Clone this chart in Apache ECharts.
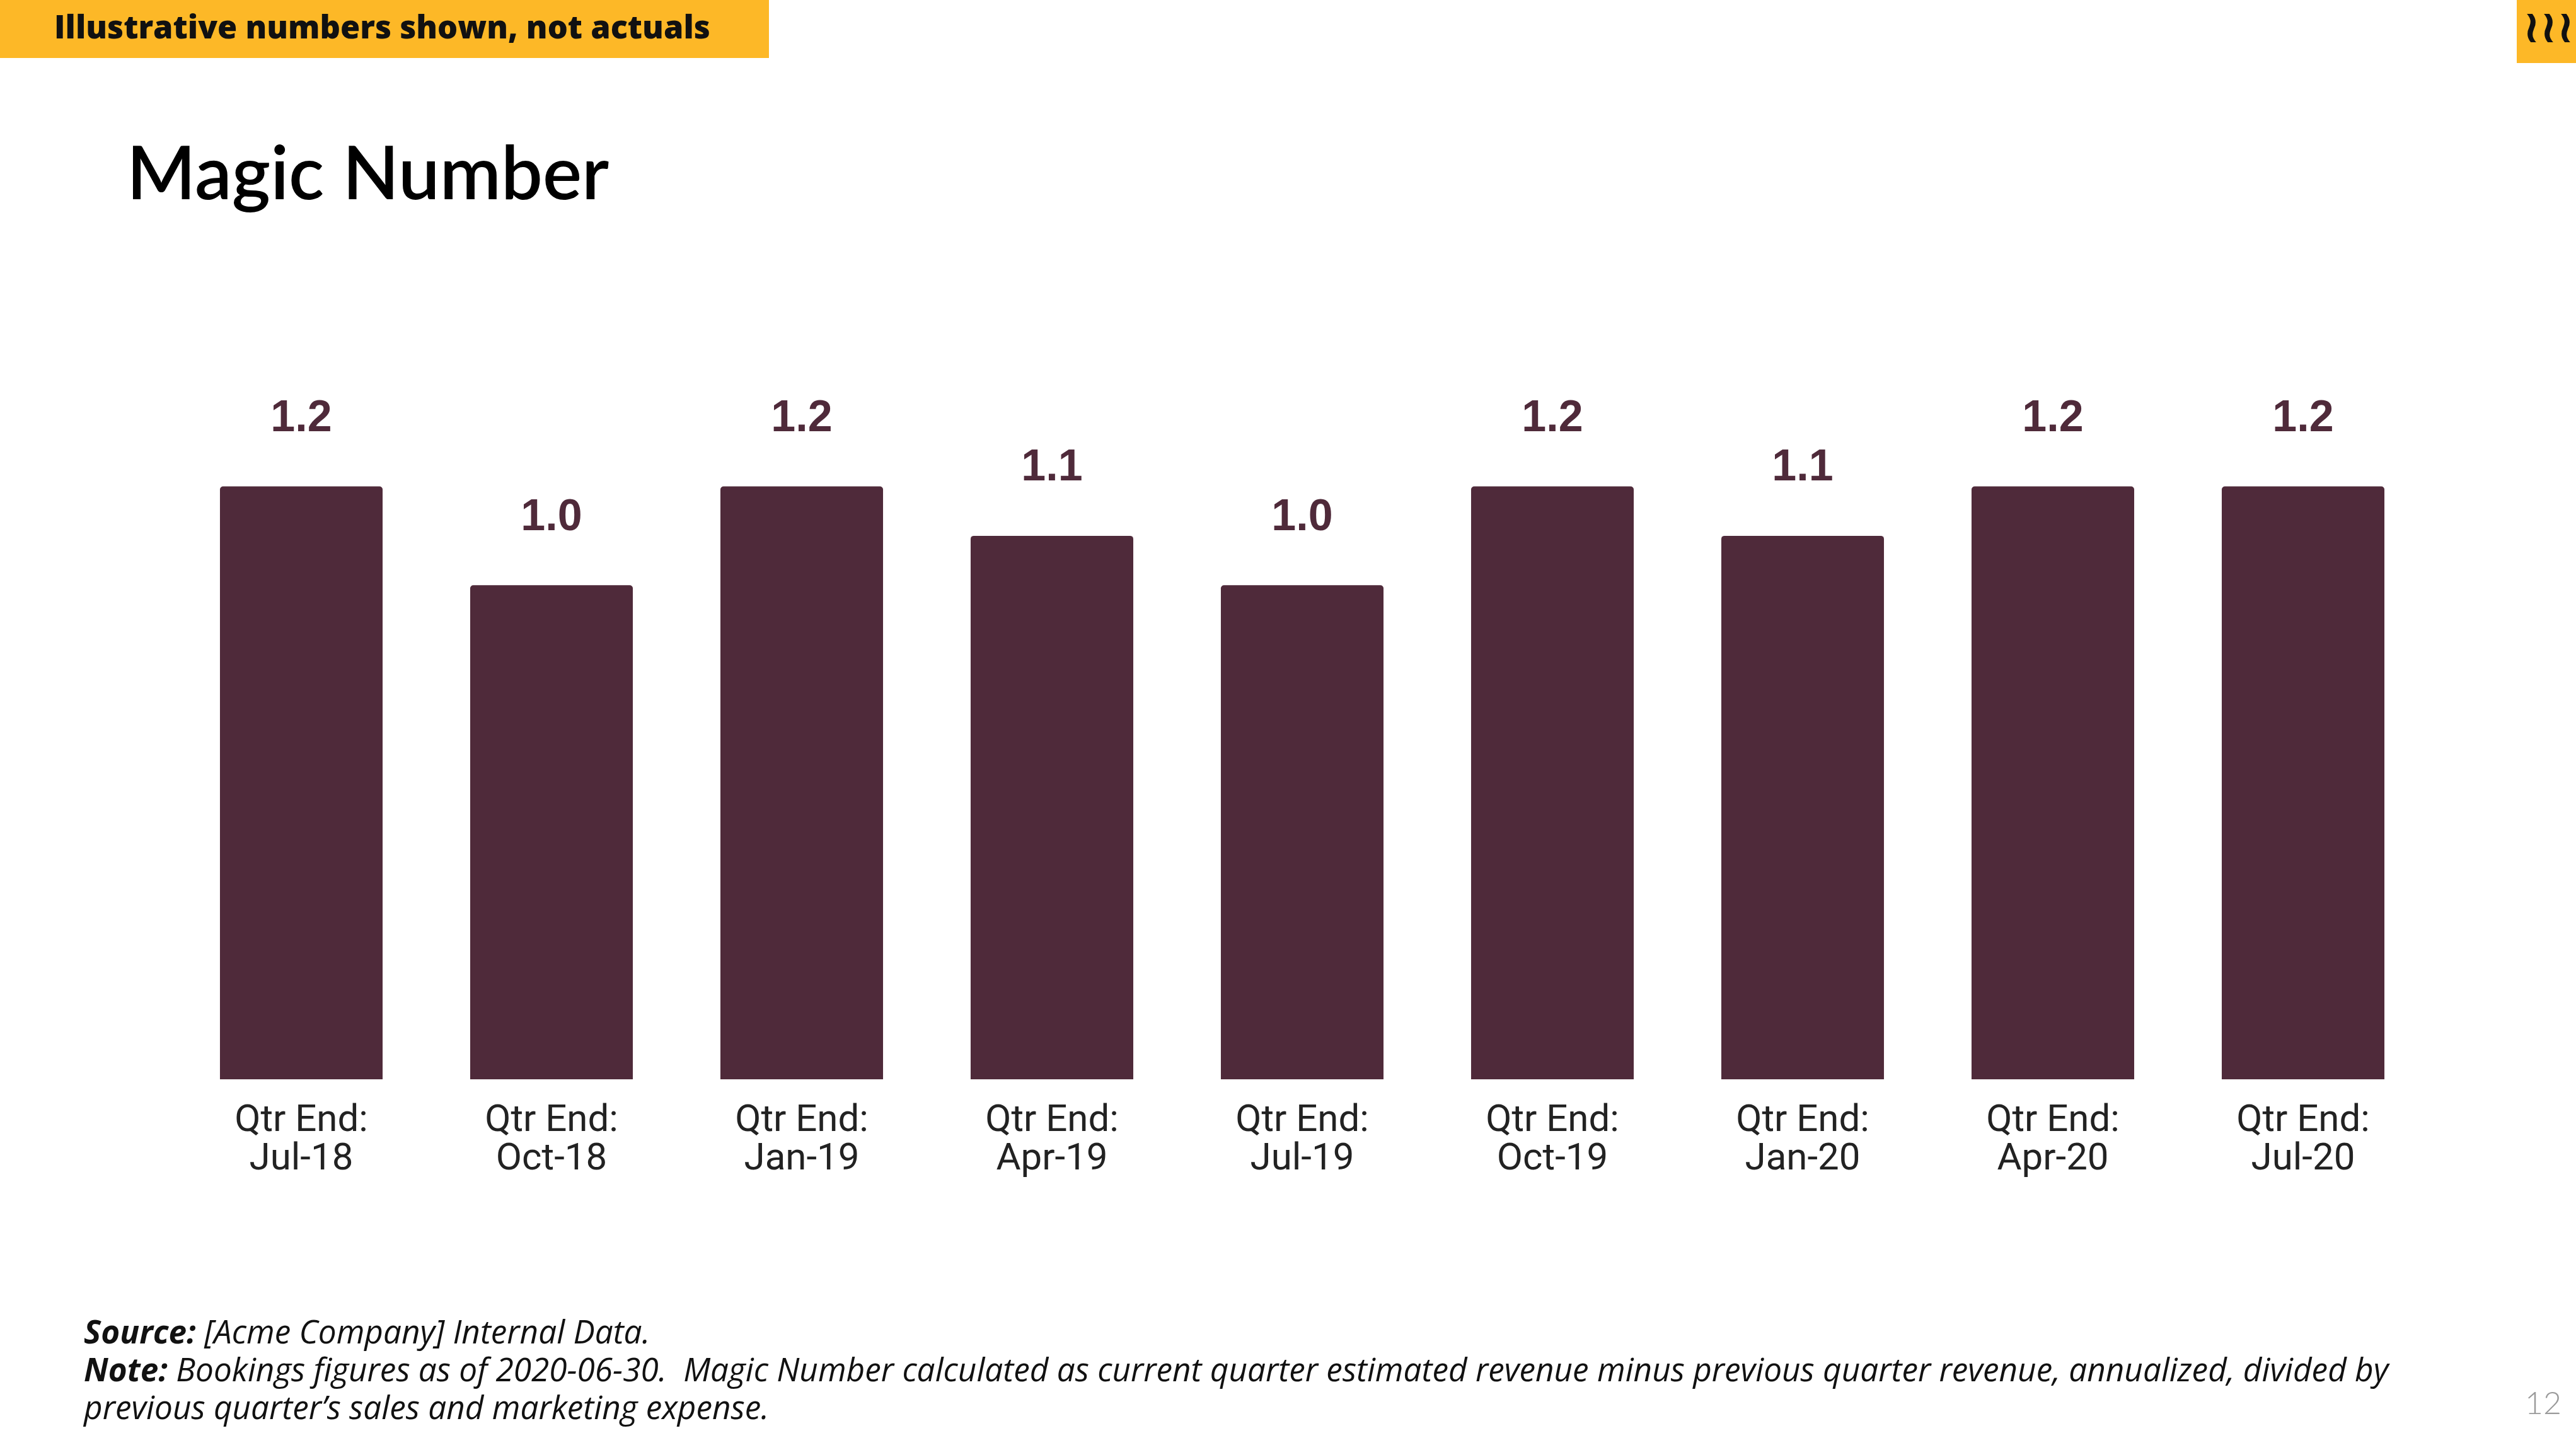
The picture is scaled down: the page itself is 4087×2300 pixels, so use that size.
<!DOCTYPE html>
<html>
<head>
<meta charset="utf-8">
<style>
html,body{margin:0;padding:0;background:#fff;}
#chart{width:4087px;height:2300px;}
</style>
<script src="https://cdn.jsdelivr.net/npm/echarts@6/dist/echarts.min.js"></script>
</head>
<body>
<div id="chart"></div>
<script>
const quarters = ['Jul-18','Oct-18','Jan-19','Apr-19','Jul-19','Oct-19','Jan-20','Apr-20','Jul-20'];
const magicNumber = [1.2, 1.0, 1.2, 1.1, 1.0, 1.2, 1.1, 1.2, 1.2];
const categoryPrefix = 'Qtr End:';
const titleText = 'Magic Number';
const bannerText = 'Illustrative numbers shown, not actuals';
const sourceText = '[Acme Company] Internal Data.';
const noteText1 = 'Bookings figures as of 2020-06-30.  Magic Number calculated as current quarter estimated revenue minus previous quarter revenue, annualized, divided by';
const noteText2 = 'previous quarter\u2019s sales and marketing expense.';
const pageNumber = '12';

const barColor = '#4F2A3A';
const chart = echarts.init(document.getElementById('chart'));
chart.setOption({
  backgroundColor: '#ffffff',
  animation: false,
  grid: { left: 279.5, right: 234.5, top: 771.5, bottom: 588, containLabel: false },
  xAxis: {
    type: 'category',
    data: quarters,
    axisLine: { show: false },
    axisTick: { show: false },
    axisLabel: {
      formatter: v => categoryPrefix + '\n' + v,
      fontFamily: 'Roboto',
      fontSize: 60,
      lineHeight: 61,
      color: '#222222',
      margin: 36
    }
  },
  yAxis: {
    type: 'value', min: 0, max: 1.2, show: false,
    splitLine: { show: false }
  },
  series: [{
    type: 'bar',
    data: magicNumber,
    barWidth: '65%',
    itemStyle: { color: barColor, borderRadius: [5,5,0,0] },
    label: {
      show: true, position: 'top', distance: 72,
      formatter: p => p.value.toFixed(1),
      fontFamily: 'Liberation Sans',
      fontWeight: 'bold',
      fontSize: 70,
      color: barColor
    }
  }],
  graphic: [
    { type: 'rect', left: 0, top: 0, shape: { width: 1220, height: 92 }, style: { fill: '#FDB827' } },
    { type: 'text', left: 86, top: 21, style: { text: bannerText, font: '800 50.5px "Open Sans"', fill: '#111' } },
    { type: 'rect', left: 3993, top: 0, shape: { width: 94, height: 100 }, style: { fill: '#FDB827' } },
    { type: 'text', left: 4003, top: 12, style: { text: '\u2240\u2240\u2240', font: 'bold 72px "DejaVu Sans"', fill: '#111' } },
    { type: 'text', left: 201, top: 220, style: { text: titleText, font: '600 117px Lato', fill: '#000' } },
    { type: 'text', left: 133, top: 2086, style: {
        text: '{b|Source:} ' + sourceText + '\n{b|Note:} ' + noteText1 + '\n' + noteText2,
        font: 'italic 51.3px "Open Sans"', fill: '#111', lineHeight: 60,
        rich: { b: { fontWeight: 'bold', fontStyle: 'italic', fontSize: 51.3, fontFamily: 'Open Sans', lineHeight: 60 } }
    } },
    { type: 'text', left: 4006, top: 2202, style: { text: pageNumber, font: '300 50px Lato', fill: '#9a9a9a' } }
  ]
});
</script>
</body>
</html>
